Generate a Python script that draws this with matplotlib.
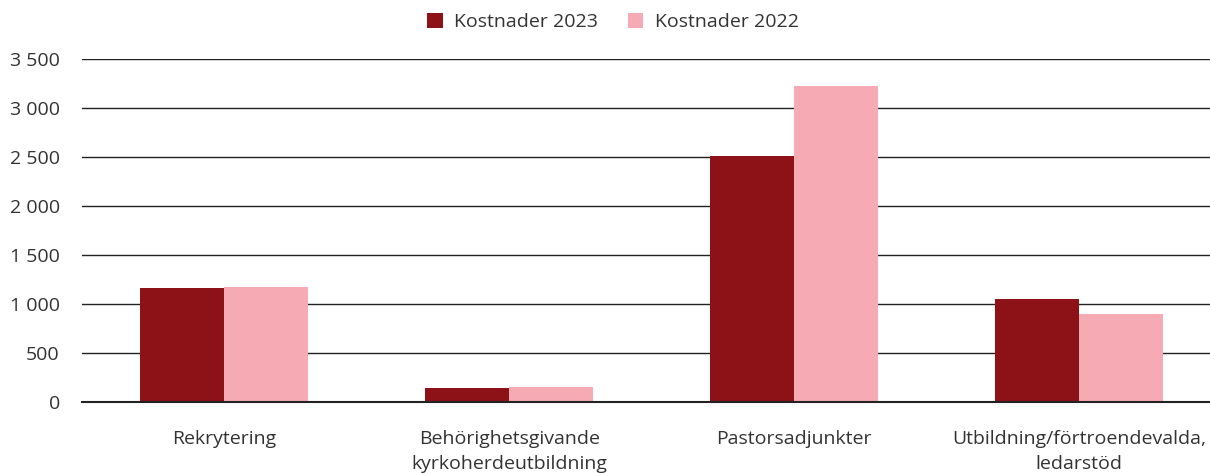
import matplotlib
matplotlib.use("Agg")
import matplotlib.pyplot as plt
import numpy as np
from matplotlib.ticker import FuncFormatter

categories = ["Rekrytering", "Behörighetsgivande\nkyrkoherdeutbildning", "Pastorsadjunkter",
              "Utbildning/förtroendevalda,\nledarstöd"]
kostnader_2023 = [1160, 143, 2515, 1050]
kostnader_2022 = [1173, 150, 3225, 898]
series_labels = ["Kostnader 2023", "Kostnader 2022"]

plt.rcParams['font.family'] = ['Open Sans', 'DejaVu Sans']

fig = plt.figure(figsize=(12.1, 4.73), dpi=100)
ax = fig.add_axes([82/1210, 1-402/473, 1-82/1210, (402-59)/473])

x = np.arange(len(categories))
w = 0.295
c23 = "#8C1217"
c22 = "#F6AAB3"
ax.bar(x - w/2, kostnader_2023, w, color=c23, label=series_labels[0], zorder=3)
ax.bar(x + w/2, kostnader_2022, w, color=c22, label=series_labels[1], zorder=3)

ax.set_ylim(0, 3500)
ax.set_xlim(-0.5, 3.46)
ax.set_yticks(np.arange(0, 3501, 500))
ax.yaxis.set_major_formatter(FuncFormatter(lambda v, p: f"{int(v):,}".replace(",", " ")))
ax.grid(axis='y', color="#222222", linewidth=1.0, zorder=0)
ax.axhline(0, color="#222222", linewidth=1.5, zorder=4, clip_on=False)
for s in ax.spines.values():
    s.set_visible(False)
ax.tick_params(axis='y', length=0, pad=16, labelsize=14, labelcolor="#333333")
ax.tick_params(axis='x', length=0, pad=20, labelsize=14, labelcolor="#333333")
ax.set_xticks(x)
ax.set_xticklabels(categories, linespacing=1.5)

fig.legend(loc='center', bbox_to_anchor=(613/1210, 1-22/473), ncol=2, frameon=False,
           fontsize=14, handlelength=0.8, handleheight=0.8, handletextpad=0.6,
           columnspacing=1.5, labelcolor="#333333")

fig.savefig("out.png", dpi=100)
